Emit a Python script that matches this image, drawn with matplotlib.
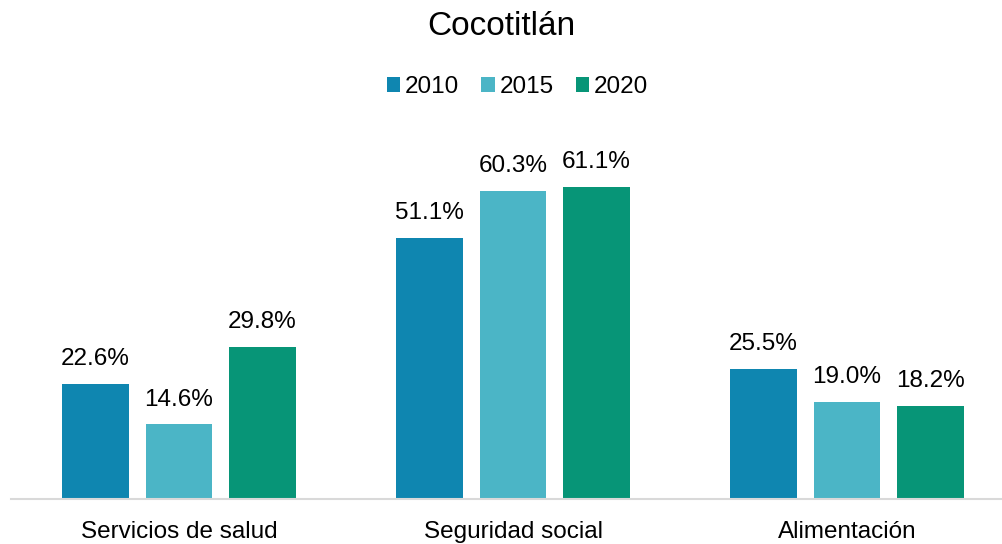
import numpy as np
import matplotlib
matplotlib.use("Agg")
import matplotlib.pyplot as plt

plt.rcParams['font.family'] = ['Liberation Sans', 'DejaVu Sans']

categorias = ['Servicios de salud', 'Seguridad social', 'Alimentación']
anios = ['2010', '2015', '2020']
v2010 = [22.6, 51.1, 25.5]
v2015 = [14.6, 60.3, 19.0]
v2020 = [29.8, 61.1, 18.2]
colores = ['#0F86B0', '#4BB5C6', '#079577']

fig = plt.figure(figsize=(10.02, 5.44), dpi=100)
ax = fig.add_axes([0.011, 0.0827, 0.989, 0.657])

x = np.arange(len(categorias))
ancho = 0.2
for i, (serie, nombre) in enumerate(zip([v2010, v2015, v2020], anios)):
    barras = ax.bar(x + (i - 1) * 0.25, serie, ancho, color=colores[i], label=nombre)
    for b, v in zip(barras, serie):
        ax.annotate(f'{v:.1f}%', (b.get_x() + b.get_width() / 2, v),
                    xytext=(0, 10), textcoords='offset points',
                    ha='center', va='bottom', fontsize=17.5)

ax.set_xlim(-0.503, 2.464)
ax.set_ylim(0, 70)
ax.set_xticks(x)
ax.set_xticklabels(categorias, fontsize=17.5)
ax.tick_params(axis='x', length=0, pad=16)
ax.set_yticks([])
for s in ['top', 'right', 'left']:
    ax.spines[s].set_visible(False)
ax.spines['bottom'].set_color('#D9D9D9')
ax.spines['bottom'].set_linewidth(1.5)

fig.text(0.5, 0.952, 'Cocotitlán', ha='center', va='center', fontsize=24)
fig.legend(loc='center', bbox_to_anchor=(0.5165, 0.84), ncol=3, frameon=False,
           fontsize=17.5, handlelength=0.55, handleheight=0.55,
           handletextpad=0.2, columnspacing=0.9)

fig.savefig('out.png', dpi=100)
